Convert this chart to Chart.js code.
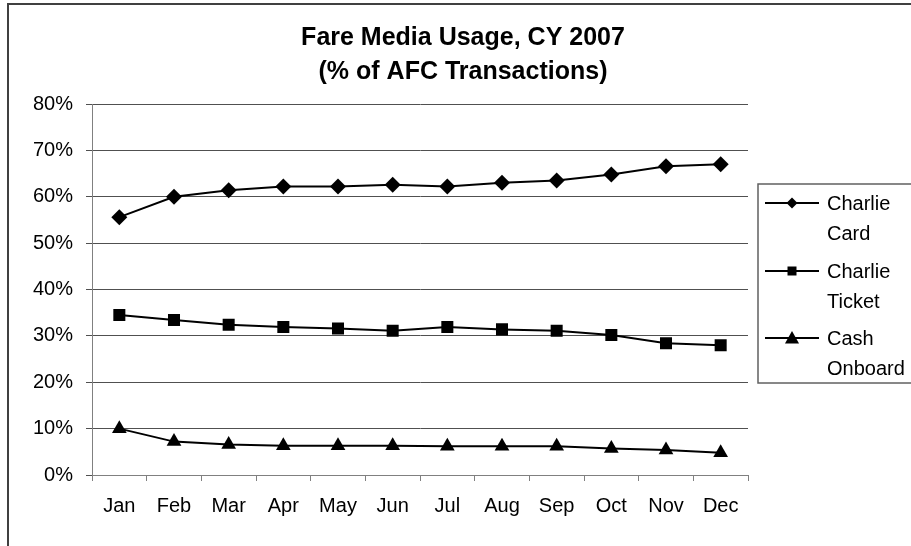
<!DOCTYPE html>
<html>
<head>
<meta charset="utf-8">
<title>Fare Media Usage, CY 2007</title>
<script src="https://cdn.jsdelivr.net/npm/chart.js@4/dist/chart.umd.min.js"></script>
<style>
  html, body { margin: 0; padding: 0; background: #fff; }
  #wrap { width: 911px; height: 546px; }
</style>
</head>
<body>
<div id="wrap"><canvas id="grafico" width="911" height="546"></canvas></div>
<script>
// dados (percentual das transações AFC)
const meses = ['Jan', 'Feb', 'Mar', 'Apr', 'May', 'Jun', 'Jul', 'Aug', 'Sep', 'Oct', 'Nov', 'Dec'];
const charlieCard = [55.6, 60.0, 61.4, 62.2, 62.2, 62.6, 62.2, 63.0, 63.5, 64.8, 66.6, 67.0];
const charlieTicket = [34.5, 33.4, 32.4, 31.9, 31.6, 31.1, 31.9, 31.4, 31.1, 30.2, 28.4, 28.0];
const cashOnboard = [10.0, 7.2, 6.6, 6.3, 6.3, 6.3, 6.2, 6.2, 6.2, 5.7, 5.4, 4.8];
const tituloLinhas = ['Fare Media Usage, CY 2007', '(% of AFC Transactions)'];
const yMin = 0, yMax = 80, yPasso = 10;

const fonte = "'Liberation Sans', Arial, sans-serif";

function serie(label, data, estilo) {
    const raios = { rectRot: 8, rect: 8.5, triangle: 8.5 };
    return {
        label: label, data: data,
        borderColor: '#000', backgroundColor: '#000', borderWidth: 2,
        pointStyle: estilo, pointRadius: raios[estilo],
        pointBorderWidth: 0, pointHoverRadius: raios[estilo], tension: 0
    };
}

// moldura externa (só aparece à esquerda e em cima) + título centrado no canvas
const moldura = {
    id: 'moldura',
    beforeDraw(chart) {
        const c = chart.ctx;
        c.save();
        c.strokeStyle = '#404040';
        c.lineWidth = 2;
        c.beginPath();
        c.moveTo(8, chart.height + 2);
        c.lineTo(8, 4);
        c.lineTo(chart.width + 2, 4);
        c.stroke();
        c.font = 'bold 25px ' + fonte;
        c.fillStyle = '#000';
        c.textAlign = 'center';
        c.textBaseline = 'middle';
        tituloLinhas.forEach((t, i) => c.fillText(t, 463, 38 + i * 34));
        c.restore();
    }
};

function marcador(c, estilo, x, y, r) {
    c.beginPath();
    if (estilo === 'rectRot') {
        c.moveTo(x, y - r); c.lineTo(x + r, y); c.lineTo(x, y + r); c.lineTo(x - r, y);
    } else if (estilo === 'rect') {
        c.rect(x - r, y - r, 2 * r, 2 * r);
    } else {
        c.moveTo(x, y - r); c.lineTo(x + r, y + r * 0.8); c.lineTo(x - r, y + r * 0.8);
    }
    c.closePath();
    c.fill();
}

// legenda desenhada à mão: linha + marcador, texto em duas linhas
const legendaExcel = {
    id: 'legendaExcel',
    afterDraw(chart) {
        const c = chart.ctx;
        const bx = 758, by = 184, bh = 199;
        c.save();
        c.strokeStyle = '#606060';
        c.lineWidth = 1.5;
        c.strokeRect(bx, by, chart.width - bx + 5, bh);
        c.font = '20px ' + fonte;
        c.fillStyle = '#000';
        c.textBaseline = 'middle';
        const topos = [203, 271, 338];
        chart.data.datasets.forEach((ds, i) => {
            const y = topos[i];
            c.strokeStyle = '#000';
            c.lineWidth = 2;
            c.beginPath(); c.moveTo(765, y); c.lineTo(819, y); c.stroke();
            const r = ds.pointStyle === 'rect' ? 4.5 : (ds.pointStyle === 'triangle' ? 7 : 5.5);
            marcador(c, ds.pointStyle, 792, y, r);
            ds.label.split(' ').forEach((parte, j) => {
                c.fillText(parte, 827, y + 1 + j * 30);
            });
        });
        c.restore();
    }
};

function initGrafico() {
    const ctx = document.getElementById('grafico').getContext('2d');
    new Chart(ctx, {
        type: 'line',
        data: {
            labels: meses,
            datasets: [
                serie('Charlie Card', charlieCard, 'rectRot'),
                serie('Charlie Ticket', charlieTicket, 'rect'),
                serie('Cash Onboard', cashOnboard, 'triangle')
            ]
        },
        options: {
            responsive: false,
            animation: false,
            layout: { padding: { left: 0, right: 163, top: 104, bottom: 0 } },
            plugins: {
                legend: { display: false },
                tooltip: { enabled: false },
                title: { display: false }
            },
            scales: {
                x: {
                    offset: true,
                    grid: { display: true, drawOnChartArea: false, drawTicks: true, tickLength: 6, offset: true, color: '#808080' },
                    border: { display: true, color: '#808080', width: 1 },
                    ticks: { color: '#000', font: { family: fonte, size: 20 }, padding: 13, maxRotation: 0 },
                    afterFit(s) { s.height = 71; }
                },
                y: {
                    min: yMin, max: yMax,
                    grid: { color: '#505050', tickLength: 6, lineWidth: 1 },
                    border: { display: true, color: '#808080', width: 1 },
                    ticks: { stepSize: yPasso, color: '#000', font: { family: fonte, size: 20 }, padding: 13,
                             callback: v => v + '%' },
                    afterFit(s) { s.width = 92; }
                }
            }
        },
        plugins: [moldura, legendaExcel]
    });
}

document.addEventListener('DOMContentLoaded', initGrafico);
</script>
</body>
</html>
